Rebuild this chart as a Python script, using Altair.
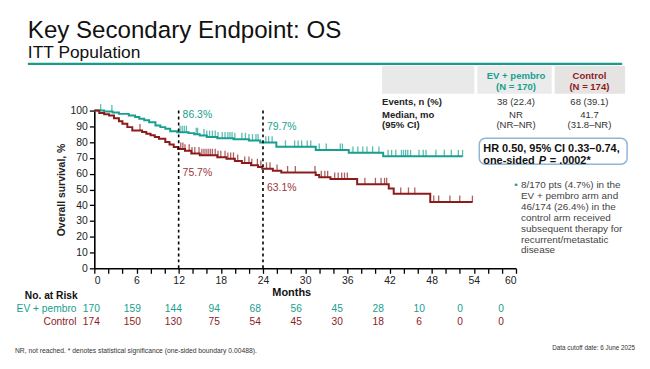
import altair as alt
import numpy as np
import pandas as pd

FONT = "Liberation Sans"
TEAL = "#17a08f"
RED = "#8c1c1c"
W, H = 425, 159
OX, OY = 95, 110  # plot origin on the page (px)

# ---- Kaplan-Meier steps (months, % surviving) ----
ev_time = [0, 1.4, 2.6, 3.5, 4.9, 5.8, 6.4, 7.1, 7.8, 8.7, 9.4, 10.1, 10.8, 11.8,
           13.4, 14.2, 15.0, 16.0, 17.5, 19.8, 22.0, 23.6, 25.9, 31.5, 36.2, 41.1]
ev_surv = [100, 99.4, 98.8, 97.9, 96.9, 95.9, 94.8, 93.8, 92.6, 90.6, 89.5, 88.5, 86.9, 86.3,
           85.7, 85.0, 84.2, 83.2, 82.4, 81.8, 81.0, 79.7, 77.0, 75.0, 73.2, 71.0]
ev_last = 52.4

ctl_time = [0, 0.7, 1.4, 2.1, 2.8, 3.5, 4.0, 4.7, 5.4, 6.8, 7.4, 8.0, 8.6, 9.2, 10.1, 10.7,
            11.3, 11.9, 12.9, 13.8, 15.0, 17.5, 18.8, 20.0, 21.0, 22.3, 23.3, 23.9, 25.4,
            26.6, 31.5, 32.0, 33.6, 37.4, 41.9, 42.6, 47.8]
ctl_surv = [100, 98.5, 97.6, 96.9, 95.2, 93.3, 91.6, 89.5, 87.4, 86.4, 85.3, 84.3, 83.2, 82.2,
            80.1, 78.5, 76.9, 75.7, 74.5, 72.8, 71.7, 70.4, 69.4, 68.0, 66.8, 65.4, 64.2, 63.1,
            61.8, 60.8, 59.1, 57.8, 56.6, 53.3, 50.6, 47.2, 42.0]
ctl_last = 53.8

# ---- censoring times (months) ----
ev_cens = [0.9, 2.5, 12.2, 12.5, 12.8, 13.1, 14.5, 14.7, 15.6, 16.0, 16.4, 16.8, 17.2, 17.6,
           18.2, 18.6, 19.0, 19.3, 19.6, 20.0, 21.0, 21.5, 22.0, 22.5, 23.0, 23.3, 24.4, 24.8,
           25.3, 27.2, 28.5, 29.0, 29.5, 30.3, 30.8, 32.0, 33.0, 35.0, 35.3, 36.8, 37.5, 38.2,
           38.8, 39.6, 40.5, 41.8, 42.3, 42.9, 43.7, 44.0, 44.3, 44.6, 45.0, 46.2, 46.8, 47.2,
           48.6, 49.8, 50.8, 51.8, 52.4]
ctl_cens = [6.5, 12.3, 12.6, 12.9, 13.5, 13.9, 14.3, 14.9, 15.3, 15.6, 15.9, 16.2, 16.5, 16.8,
            17.2, 17.6, 18.0, 18.6, 19.0, 19.4, 19.8, 20.4, 21.4, 22.0, 22.4, 23.2, 23.7, 24.5,
            25.0, 26.0, 27.5, 28.6, 31.4, 32.3, 32.8, 33.2, 34.2, 34.7, 35.2, 35.6, 36.0, 38.5,
            40.0, 40.8, 41.3, 41.6, 43.6, 44.7, 45.6, 48.3, 49.0, 50.6, 52.0, 53.8]

# ---- number at risk ----
risk_months = [0, 6, 12, 18, 24, 30, 36, 42, 48, 54, 60]
risk_ev = [170, 159, 144, 94, 68, 56, 45, 28, 10, 0, 0]
risk_ctl = [174, 150, 130, 75, 54, 45, 30, 18, 6, 0, 0]

landmarks = [12, 24]
ev_landmark = ["86.3%", "79.7%"]
ctl_landmark = ["75.7%", "63.1%"]
arms = ["EV + pembro", "Control"]

# ---- tables built from the lists ----
def curve(arm, t, s, last):
    return pd.DataFrame({"arm": arm, "t": list(t) + [last], "s": list(s) + [s[-1]]})

def at(t, s, when):
    idx = np.searchsorted(np.array(t), np.array(when), side="right") - 1
    return np.array(s)[idx]

curves = pd.concat([curve(arms[0], ev_time, ev_surv, ev_last),
                    curve(arms[1], ctl_time, ctl_surv, ctl_last)])
cens = pd.concat([pd.DataFrame({"arm": arms[0], "t": ev_cens, "s": at(ev_time, ev_surv, ev_cens)}),
                  pd.DataFrame({"arm": arms[1], "t": ctl_cens, "s": at(ctl_time, ctl_surv, ctl_cens)})])

xs = alt.Scale(domain=[0, 60], nice=False, zero=False)
ys = alt.Scale(domain=[0, 100], nice=False)
cs = alt.Scale(domain=arms, range=[TEAL, RED])

yaxis = alt.Axis(
    values=list(range(0, 101, 10)), title="Overall survival, %", grid=False,
    tickSize=5, tickWidth=1.3, tickColor="black", domainColor="black", domainWidth=1.6,
    labelFontSize=10.5, labelColor="#222", labelFont=FONT, labelPadding=2,
    titleFont=FONT, titleFontSize=10.5, titleFontWeight="bold", titleColor="#222",
    titlePadding=4)
Y = lambda: alt.Y("s:Q", scale=ys, axis=yaxis)

lines = alt.Chart(curves).mark_line(interpolate="step-after", strokeWidth=2).encode(
    x=alt.X("t:Q", scale=xs, axis=alt.Axis(
        values=list(range(0, 61, 2)),
        labelExpr="datum.value % 6 == 0 ? datum.label : ''",
        title=None, grid=False, tickSize=5, tickWidth=1.3, tickColor="black",
        domainColor="black", domainWidth=1.6, labelFontSize=10.5, labelColor="#222",
        labelFont=FONT, labelPadding=2)),
    y=Y(),
    color=alt.Color("arm:N", scale=cs, legend=None),
    detail="arm:N",
)

ticks = alt.Chart(cens).mark_tick(orient="vertical", size=7, thickness=1.3, yOffset=-3).encode(
    x=alt.X("t:Q", scale=xs, axis=None),
    y=Y(),
    color=alt.Color("arm:N", scale=cs, legend=None),
)

dash = alt.Chart(pd.DataFrame({"m": landmarks})).mark_rule(
    strokeDash=[3, 3], strokeWidth=1.6, color="black").encode(
    x=alt.X("m:Q", scale=xs, axis=None))

lab_layers = []
for i, (dy_ev, dy_ctl) in enumerate([(-17, 24), (-16, 19)]):
    m = landmarks[i]
    ev_df = pd.DataFrame({"m": [m], "s": [at(ev_time, ev_surv, m)], "txt": [ev_landmark[i]]})
    ct_df = pd.DataFrame({"m": [m], "s": [at(ctl_time, ctl_surv, m)], "txt": [ctl_landmark[i]]})
    lab_layers.append(alt.Chart(ev_df).mark_text(align="left", baseline="middle", dx=4, dy=dy_ev,
                                                 fontSize=10.5, font=FONT, color=TEAL).encode(
        x=alt.X("m:Q", scale=xs, axis=None), y=Y(), text="txt:N"))
    lab_layers.append(alt.Chart(ct_df).mark_text(align="left", baseline="middle", dx=4, dy=dy_ctl,
                                                 fontSize=10.5, font=FONT, color="#9a3535").encode(
        x=alt.X("m:Q", scale=xs, axis=None), y=Y(), text="txt:N"))

# risk table uses its own, slightly narrower spacing
rs = alt.Scale(domain=[0.436, 62.18], nice=False, zero=False)
risk_df = pd.DataFrame({"m": risk_months, "ev": risk_ev, "ctl": risk_ctl})
risk_ev_l = alt.Chart(risk_df).mark_text(fontSize=10.3, font=FONT, color=TEAL, baseline="middle").encode(
    x=alt.X("m:Q", scale=rs, axis=None), y=alt.value(310 - OY), text="ev:Q")
risk_ctl_l = alt.Chart(risk_df).mark_text(fontSize=10.3, font=FONT, color=RED, baseline="middle").encode(
    x=alt.X("m:Q", scale=rs, axis=None), y=alt.value(323 - OY), text="ctl:Q")

one = pd.DataFrame({"k": [0]})

def txt(s, px, py, size=10, color="#222", weight="normal", align="left",
        baseline="alphabetic", style="normal"):
    return alt.Chart(pd.DataFrame({"t": [s]})).mark_text(
        align=align, baseline=baseline, fontSize=size, color=color, fontWeight=weight,
        font=FONT, fontStyle=style).encode(x=alt.value(px - OX), y=alt.value(py - OY), text="t:N")

def box(x1, y1, x2, y2, fill, stroke=None, sw=0, r=0):
    kw = dict(fill=fill, cornerRadius=r)
    if stroke:
        kw.update(stroke=stroke, strokeWidth=sw)
    return alt.Chart(one).mark_rect(**kw).encode(
        x=alt.value(x1 - OX), x2=alt.value(x2 - OX), y=alt.value(y1 - OY), y2=alt.value(y2 - OY))

deco = [
    txt("Key Secondary Endpoint: OS", 28, 37, size=24.3, color="#111"),
    txt("ITT Population", 28, 57, size=17.5, color="#111"),
    alt.Chart(one).mark_rule(color="#1a9a8c", strokeWidth=2.2).encode(
        x=alt.value(28 - OX), x2=alt.value(627 - OX), y=alt.value(63 - OY)),
    # table header
    box(385, 65, 478, 93, "#e9e9e9"),
    box(481, 65, 556, 93, "#ebebeb"),
    box(559, 65, 630, 93, "#e6e3e3"),
    txt("EV + pembro", 520, 75, size=9.6, color=TEAL, weight="bold", align="center", baseline="middle"),
    txt("(N = 170)", 520, 86, size=9.6, color=TEAL, weight="bold", align="center", baseline="middle"),
    txt("Control", 594, 75, size=9.6, color=RED, weight="bold", align="center", baseline="middle"),
    txt("(N = 174)", 594, 86, size=9.6, color=RED, weight="bold", align="center", baseline="middle"),
    txt("Events, n (%)", 385, 101, size=9.6, weight="bold", baseline="middle"),
    txt("Median, mo", 385, 114, size=9.6, weight="bold", baseline="middle"),
    txt("(95% CI)", 385, 124.5, size=9.6, weight="bold", baseline="middle"),
    txt("38 (22.4)", 520, 101, size=9.6, color="#333", align="center", baseline="middle"),
    txt("68 (39.1)", 594, 101, size=9.6, color="#333", align="center", baseline="middle"),
    txt("NR", 520, 114, size=9.6, color="#333", align="center", baseline="middle"),
    txt("(NR\u2013NR)", 520, 124.5, size=9.6, color="#333", align="center", baseline="middle"),
    txt("41.7", 594, 114, size=9.6, color="#333", align="center", baseline="middle"),
    txt("(31.8\u2013NR)", 594, 124.5, size=9.6, color="#333", align="center", baseline="middle"),
    # HR box
    box(483, 138, 632, 164, "white", stroke="#8fb6d6", sw=1.5, r=6),
    txt("HR 0.50, 95% CI 0.33\u20130.74,", 487, 149, size=11, weight="bold", color="#111", baseline="middle"),
    txt("one-sided", 487, 160.5, size=11, weight="bold", color="#111", baseline="middle"),
    txt("P", 543, 160.5, size=11, weight="bold", color="#111", baseline="middle", style="italic"),
    txt("= .0002*", 554, 160.5, size=11, weight="bold", color="#111", baseline="middle"),
    # bullet
    txt("\u2022", 520, 185, size=10, color=TEAL, baseline="middle", align="center"),
    txt("8/170 pts (4.7%) in the", 525, 185, size=10, color="#444", baseline="middle"),
    txt("EV + pembro arm and", 525, 196, size=10, color="#444", baseline="middle"),
    txt("46/174 (26.4%) in the", 525, 207, size=10, color="#444", baseline="middle"),
    txt("control arm received", 525, 218, size=10, color="#444", baseline="middle"),
    txt("subsequent therapy for", 525, 229, size=10, color="#444", baseline="middle"),
    txt("recurrent/metastatic", 525, 240, size=10, color="#444", baseline="middle"),
    txt("disease", 525, 251, size=10, color="#444", baseline="middle"),
    # axis title / risk table headers
    txt("Months", 294, 294, size=11, weight="bold", color="#111", align="center", baseline="middle"),
    txt("No. at Risk", 25, 297, size=10.3, weight="bold", color="#111", baseline="middle"),
    txt("EV + pembro", 77, 310, size=10.3, color=TEAL, align="right", baseline="middle"),
    txt("Control", 77, 323, size=10.3, color=RED, align="right", baseline="middle"),
    # footnotes
    txt("NR, not reached. * denotes statistical significance (one-sided boundary 0.00488).",
        15, 352, size=6.8, color="#333", baseline="middle"),
    txt("Data cutoff date: 6 June 2025", 640, 349, size=6.4, color="#333", align="right",
        baseline="middle"),
]

chart = alt.layer(lines, ticks, dash, *lab_layers, risk_ev_l, risk_ctl_l, *deco).resolve_scale(
    x="independent"
).properties(
    width=W, height=H,
    padding={"left": OX - 8, "top": OY - 8, "right": 127, "bottom": 88},
    autosize=alt.AutoSizeParams(type="none"),
    background="white",
).configure_view(stroke=None)

chart.save("out.html", embed_options={"renderer": "svg", "actions": False})
